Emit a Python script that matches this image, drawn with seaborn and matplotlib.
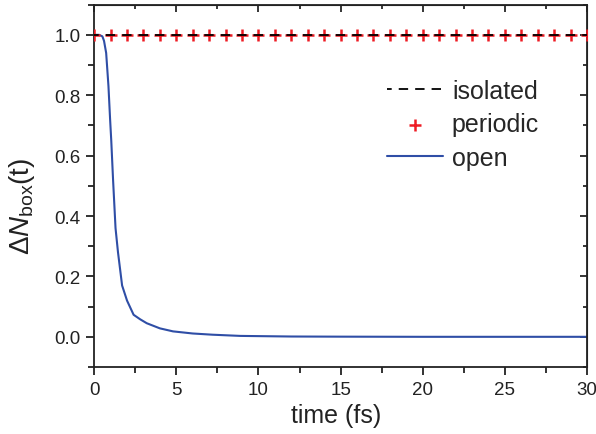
import matplotlib
matplotlib.use("Agg")
import matplotlib.pyplot as plt
import seaborn as sns
import numpy as np

# tiempo (fs) y curvas
t_open = [0, 0.3, 0.5, 0.6, 0.73, 0.87, 0.97, 1.04, 1.15, 1.3, 1.45, 1.7, 2.0,
          2.4, 2.8, 3.2, 4.0, 4.8, 6.0, 7.2, 8.9, 12, 15, 20, 25, 30]
n_open = [1.0, 1.0, 0.995, 0.98, 0.94, 0.83, 0.72, 0.65, 0.52, 0.36, 0.28, 0.17, 0.12,
          0.073, 0.058, 0.045, 0.028, 0.018, 0.011, 0.007, 0.003, 0.001, 0.0005, 0.0, 0.0, 0.0]
t_isolated = [0, 30]
n_isolated = [1.0, 1.0]
t_periodic = list(range(0, 31))
n_periodic = [1.0] * 31

sns.set_style("ticks")
plt.rcParams['font.family'] = ['Liberation Sans', 'DejaVu Sans']
plt.rcParams['mathtext.fontset'] = 'custom'
plt.rcParams['mathtext.rm'] = 'Liberation Sans'
plt.rcParams['mathtext.it'] = 'Liberation Sans:italic'

fig = plt.figure(figsize=(5.96, 4.35), dpi=100)
ax = fig.add_axes([0.158, 0.154, 0.827, 0.833])

sns.scatterplot(x=t_periodic, y=n_periodic, ax=ax, marker='+', color='#ee1c24',
                s=80, linewidth=1.8, label='periodic', zorder=3)
# guiones alineados con las cruces (periodo = 1 fs)
sns.lineplot(x=t_isolated, y=n_isolated, ax=ax, color='black', lw=1.3,
             linestyle=(2.6, (5.2, 3.9)), label='isolated', zorder=4)
sns.lineplot(x=t_open, y=n_open, ax=ax, color='#2f4ea6', lw=1.5, label='open')

ax.set_xlim(0, 30)
ax.set_ylim(-0.1, 1.1)
ax.set_xticks(np.arange(0, 31, 5))
ax.set_xticks(np.arange(0, 30.1, 2.5), minor=True)
ax.set_yticks(np.arange(0, 1.01, 0.2))
ax.set_yticks(np.arange(-0.1, 1.11, 0.1), minor=True)
ax.yaxis.set_major_formatter(matplotlib.ticker.FormatStrFormatter('%.1f'))

for s in ax.spines.values():
    s.set_linewidth(1.3)
    s.set_color('#222222')
ax.tick_params(axis='both', which='major', direction='out', length=6, width=1.3,
               labelsize=13.5, colors='#222222', pad=4)
ax.tick_params(axis='both', which='minor', direction='out', length=4, width=1.3, colors='#222222')
# ticks hacia dentro arriba y a la derecha
ax2 = ax.secondary_xaxis('top')
ax2.set_xticks(np.arange(0, 31, 5))
ax2.set_xticks(np.arange(0, 30.1, 2.5), minor=True)
ax2.tick_params(which='both', direction='in', labeltop=False, width=1.3)
ax2.tick_params(which='major', length=5)
ax2.tick_params(which='minor', length=3)
ax3 = ax.secondary_yaxis('right')
ax3.set_yticks(np.arange(0, 1.01, 0.2))
ax3.set_yticks(np.arange(-0.1, 1.11, 0.1), minor=True)
ax3.tick_params(which='both', direction='in', labelright=False, width=1.3)
ax3.tick_params(which='major', length=5)
ax3.tick_params(which='minor', length=3)

ax.set_xlabel('time (fs)', fontsize=18, color='#222222')
ax.xaxis.set_label_coords(0.49, -0.1)
ax.set_ylabel(r'$\Delta N_{\mathrm{box}}$(t)', fontsize=20, color='#222222')
ax.yaxis.set_label_coords(-0.115, 0.447)

h, l = ax.get_legend_handles_labels()
orden = [l.index('isolated'), l.index('periodic'), l.index('open')]
ax.legend([h[i] for i in orden], [l[i] for i in orden],
          loc='upper left', bbox_to_anchor=(0.594, 0.795), frameon=False,
          borderpad=0, borderaxespad=0, fontsize=18, handlelength=2.25,
          handletextpad=0.35, labelspacing=0.38)

fig.savefig('out.png', dpi=100)
